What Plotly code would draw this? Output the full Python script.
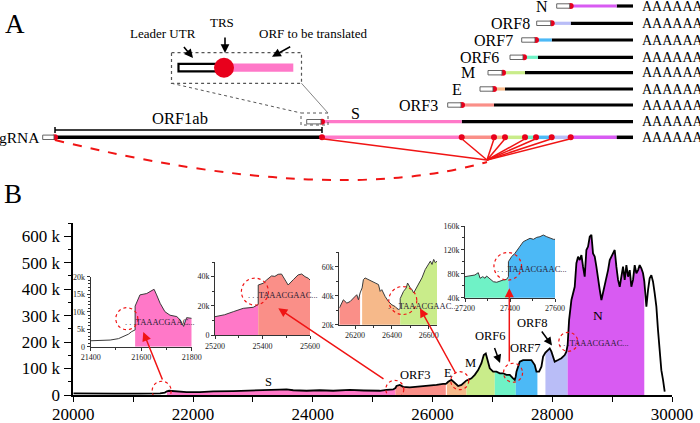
import plotly.graph_objects as go

W, H = 700, 423
FONT = "Liberation Serif, Times New Roman, serif"

# ---------------- data: main coverage track (genome position, coverage in k reads) ----------------
main_pos = [20000, 20300, 20700, 21100, 21450, 21530, 21563, 21600, 21670, 21800, 21892, 22115, 22337,
            22671, 23005, 23228, 23450, 23561, 23673, 23896, 24118, 24341, 24619, 24850, 25120, 25231,
            25343, 25380, 25398, 25454, 25510, 25621, 25732, 25843, 25955, 26066, 26177, 26222, 26240,
            26261, 26316, 26372, 26428, 26483, 26539, 26567, 26595, 26650, 26706, 26762, 26817, 26856,
            26890, 26912, 26956, 27012, 27040, 27068, 27123, 27179, 27235, 27290, 27346, 27374, 27390,
            27402, 27457, 27513, 27596, 27652, 27708, 27736, 27752, 27780, 27819, 27847, 27886, 27930,
            27958, 27986, 28014, 28041, 28097, 28153, 28208, 28236, 28257, 28281, 28320, 28375, 28403,
            28431, 28459, 28487, 28514, 28542, 28570, 28598, 28626, 28654, 28681, 28709, 28737, 28765,
            28793, 28821, 28848, 28876, 28904, 28932, 28960, 28987, 29015, 29043, 29071, 29099, 29127,
            29154, 29182, 29210, 29238, 29266, 29294, 29321, 29349, 29377, 29405, 29433, 29460, 29488,
            29516, 29537, 29572, 29600, 29627, 29655, 29683, 29711, 29739, 29766, 29794, 29822, 29850,
            29878]
main_cov_k = [6, 5, 5, 5.5, 6, 9, 14, 16, 15, 12, 11, 11, 14,
              15, 16, 18, 20, 21, 18, 16, 18, 16, 19, 17, 16, 19,
              21, 26, 34, 38, 31, 29, 31, 34, 37, 38, 42, 42, 45,
              50, 57, 44, 34, 38, 50, 55, 57, 63, 76, 94, 120, 151,
              157, 139, 101, 88, 88, 88, 82, 82, 76, 76, 63, 57, 70,
              88, 126, 132, 132, 132, 113, 88, 88, 88, 107, 145, 160, 170,
              176, 164, 145, 126, 132, 139, 151, 164, 189, 283, 359, 409, 498,
              523, 510, 529, 485, 447, 548, 561, 598, 605, 535, 523, 485, 435,
              397, 359, 384, 409, 435, 472, 510, 523, 535, 548, 485, 435, 409,
              447, 485, 435, 491, 447, 472, 409, 435, 491, 460, 472, 491, 479,
              460, 430, 334, 397, 441, 453, 428, 384, 334, 246, 157, 94, 57,
              13]
assert len(main_pos) == len(main_cov_k)

orf_names = ["S", "ORF3", "E", "M", "ORF6", "ORF7", "ORF8", "N"]
orf_start = [21563, 25380, 26240, 26567, 27040, 27390, 27886, 28257]
orf_end = [25380, 26222, 26567, 27040, 27390, 27752, 28257, 29537]
orf_colors = ["#ff78c8", "#fa8f88", "#f6b98a", "#c9ec8a", "#6ff2c6", "#4cb9f6", "#b9bdf7", "#d85bf2"]
COL = dict(zip(orf_names, orf_colors))

main_ytick_vals = [0, 100000, 200000, 300000, 400000, 500000, 600000]
main_ytick_text = ["0", "100 k", "200 k", "300 k", "400 k", "500 k", "600 k"]
main_xtick_vals = [20000, 22000, 24000, 26000, 28000, 30000]

# ---------------- data: zoomed insets ----------------
ins1_pos = [21400, 21440, 21477, 21510, 21529, 21550, 21562, 21576, 21576, 21595, 21622, 21642, 21651,
            21661, 21675, 21694, 21714, 21741, 21755, 21768, 21780, 21800]
ins1_cov_k = [1.7, 1.8, 1.9, 2.3, 2.9, 3.6, 4.3, 4.8, 11.6, 14.8, 15.2, 16.2, 16.4,
              14.8, 12.4, 10.0, 9.0, 8.6, 7.6, 5.8, 8.3, 8.1]
ins1_regions = [("S", 21576, 21800)]

ins2_pos = [25200, 25240, 25277, 25319, 25361, 25378, 25382, 25382, 25403, 25417, 25438, 25452, 25466,
            25480, 25494, 25508, 25530, 25550, 25565, 25579, 25593, 25600]
ins2_cov_k = [12.7, 14.0, 16.1, 18.4, 19.1, 20.7, 21.0, 34.3, 35.5, 37.7, 40.5, 40.2, 41.6,
              41.8, 37.7, 34.3, 38.0, 41.2, 41.8, 40.0, 38.9, 37.7]
ins2_regions = [("S", 25200, 25382), ("ORF3", 25382, 25600)]

ins3_pos = [26114, 26136, 26155, 26173, 26191, 26209, 26218, 26227, 26238, 26245, 26254, 26272, 26291,
            26309, 26327, 26336, 26345, 26363, 26381, 26400, 26418, 26436, 26445, 26445, 26463, 26478,
            26485, 26500, 26509, 26518, 26532, 26545, 26563, 26581, 26600, 26609, 26618, 26627, 26636,
            26645]
ins3_cov_k = [31.4, 37.2, 34.9, 36.0, 38.4, 40.7, 37.2, 41.9, 45.4, 51.1, 52.3, 51.1, 50.0,
              48.4, 47.7, 43.0, 44.2, 39.5, 36.0, 33.7, 32.5, 30.2, 31.4, 38.0, 43.0, 45.4,
              48.8, 45.4, 44.2, 41.9, 45.4, 48.8, 52.3, 58.1, 61.6, 63.9, 61.6, 65.1, 62.8,
              63.9]
ins3_regions = [("ORF3", 26114, 26227), ("E", 26238, 26445), ("M", 26445, 26645)]

ins4_pos = [27200, 27222, 27244, 27259, 27267, 27279, 27289, 27296, 27311, 27326, 27341, 27356, 27370,
            27385, 27393, 27393, 27407, 27422, 27444, 27459, 27474, 27489, 27504, 27519, 27533, 27548,
            27563, 27578, 27593, 27600]
ins4_cov_k = [75.2, 76.3, 78.0, 81.9, 72.5, 75.2, 72.5, 76.3, 70.8, 66.8, 65.8, 68.0, 69.6,
              70.8, 75.2, 100.3, 108.6, 114.3, 125.4, 133.7, 136.6, 139.4, 137.7, 141.0, 142.1, 144.9,
              142.1, 139.4, 137.7, 137.7]
ins4_regions = [("ORF6", 27200, 27393), ("ORF7", 27393, 27600)]

# ---------------- data: schematic (panel A), schematic units ----------------
sg_rows = ["N", "ORF8", "ORF7", "ORF6", "M", "E", "ORF3", "S"]
sg_row_y = [6, 23.3, 40, 57.3, 72.7, 89, 105, 121.7]
sg_leader_start = [556.7, 536.7, 521.7, 510, 488, 480, 447.7, 306.7]
sg_orf_start = [570.7, 551.7, 536, 524, 503, 494, 462, 322]
sg_orf_end = [616.7, 570.7, 551.7, 538, 525, 505, 494, 461.7]
sg_label_right = [550, 531.7, 515, 500.7, 476.7, 464, 440, None]
schem_end = 633
grna_y = 137.3
grna_leader = [42.7, 55]
grna_bounds = [55, 322, 461.7, 494, 505, 525, 536, 551.7, 570.7, 616.7, 633]
grna_segs = ["ORF1ab", "S", "ORF3", "E", "M", "ORF6", "ORF7", "ORF8", "N", "UTR3"]

fig = go.Figure()


def dx(a, b):
    return [a / W, b / W]


def dy(bottom, top):
    return [1 - bottom / H, 1 - top / H]


def add_fill(xs, ys, lo, hi, color, xa, ya):
    sx = [x for x in xs if lo <= x <= hi]
    sy = [y for x, y in zip(xs, ys) if lo <= x <= hi]
    fig.add_trace(go.Scatter(x=sx, y=sy, fill="tozeroy", fillcolor=color, mode="none",
                             xaxis=xa, yaxis=ya, hoverinfo="skip"))


# ---- main coverage ----
main_cov = [v * 1000 for v in main_cov_k]
for n, s, e in zip(orf_names, orf_start, orf_end):
    add_fill(main_pos, main_cov, s, e, COL[n], "x", "y")
fig.add_trace(go.Scatter(x=main_pos, y=main_cov, mode="lines", line=dict(color="black", width=1.8),
                         xaxis="x", yaxis="y"))

# ---- insets ----
insets = [
    (ins1_pos, ins1_cov_k, ins1_regions, "x2", "y2"),
    (ins2_pos, ins2_cov_k, ins2_regions, "x3", "y3"),
    (ins3_pos, ins3_cov_k, ins3_regions, "x4", "y4"),
    (ins4_pos, ins4_cov_k, ins4_regions, "x5", "y5"),
]
for pos, cov_k, regs, xa, ya in insets:
    cov = [v * 1000 for v in cov_k]
    for n, lo, hi in regs:
        add_fill(pos, cov, lo, hi, COL[n], xa, ya)
    fig.add_trace(go.Scatter(x=pos, y=cov, mode="lines", line=dict(color="#3a3a3a", width=1),
                             xaxis=xa, yaxis=ya))

# ---- schematic (panel A) on overlay axis x6/y6 ----
seg_color = dict(COL, ORF1ab="black", UTR3="black")
for i, name in enumerate(grna_segs):
    fig.add_trace(go.Scatter(x=[grna_bounds[i], grna_bounds[i + 1]], y=[grna_y, grna_y], mode="lines",
                             line=dict(color=seg_color[name], width=3.5), xaxis="x6", yaxis="y6"))
for name, yy, s, e in zip(sg_rows, sg_row_y, sg_orf_start, sg_orf_end):
    fig.add_trace(go.Scatter(x=[e, schem_end], y=[yy, yy], mode="lines",
                             line=dict(color="black", width=3.2), xaxis="x6", yaxis="y6"))
    fig.add_trace(go.Scatter(x=[s, e], y=[yy, yy], mode="lines",
                             line=dict(color=COL[name], width=3.2), xaxis="x6", yaxis="y6"))

shapes = []
# leader boxes
for yy, l0, s in zip(sg_row_y, sg_leader_start, sg_orf_start):
    shapes.append(dict(type="rect", xref="x6", yref="y6", x0=l0, x1=s - 1, y0=yy - 2.2, y1=yy + 2.2,
                       fillcolor="white", line=dict(color="#555", width=0.9), layer="above"))
shapes.append(dict(type="rect", xref="x6", yref="y6", x0=grna_leader[0], x1=grna_leader[1] - 1,
                   y0=grna_y - 2.2, y1=grna_y + 2.2, fillcolor="white", line=dict(color="#555", width=0.9)))
# red splice lines
conv = (487, 160)
for xb in [322, 461.7, 494, 505, 525, 536, 551.7, 570.7]:
    shapes.append(dict(type="line", xref="x6", yref="y6", x0=xb, y0=grna_y + 1.5, x1=conv[0], y1=conv[1],
                       line=dict(color="#f01414", width=1.5)))
shapes.append(dict(type="path", xref="x6", yref="y6", path="M 55,140 Q 329,207 487,162",
                   line=dict(color="#f01414", width=2, dash="dash")))
# ORF1ab bracket
shapes.append(dict(type="line", xref="x6", yref="y6", x0=55, x1=322, y0=130, y1=130,
                   line=dict(color="black", width=1.5)))
for xb in [55, 322]:
    shapes.append(dict(type="line", xref="x6", yref="y6", x0=xb, x1=xb, y0=127, y1=133,
                       line=dict(color="black", width=1.5)))
# zoom boxes
shapes.append(dict(type="rect", xref="x6", yref="y6", x0=301, x1=328, y0=113, y1=125,
                   line=dict(color="#555", width=1, dash="dot")))
shapes.append(dict(type="rect", xref="x6", yref="y6", x0=171.5, x1=301.5, y0=52.7, y1=83.3,
                   line=dict(color="#555", width=1.2, dash="dot")))
shapes.append(dict(type="line", xref="x6", yref="y6", x0=171.5, y0=83.3, x1=301, y1=113,
                   line=dict(color="#555", width=1, dash="dot")))
shapes.append(dict(type="line", xref="x6", yref="y6", x0=301.5, y0=83.3, x1=328, y1=113,
                   line=dict(color="#666", width=0.8)))
# enlarged TRS diagram
shapes.append(dict(type="rect", xref="x6", yref="y6", x0=224, x1=293.3, y0=63.5, y1=71.8,
                   fillcolor=COL["S"], line=dict(width=0)))
shapes.append(dict(type="rect", xref="x6", yref="y6", x0=178.5, x1=216.5, y0=63.8, y1=71.3,
                   fillcolor="white", line=dict(color="black", width=2.2)))
shapes.append(dict(type="circle", xref="x6", yref="y6", x0=214, x1=234, y0=57.7, y1=77.7,
                   fillcolor="#e8001c", line=dict(width=0)))

# red dots
dot_x = [55, 322, 461.7, 494, 505, 525, 536, 551.7, 570.7] + sg_orf_start
dot_y = [grna_y] * 9 + sg_row_y
fig.add_trace(go.Scatter(x=dot_x, y=dot_y, mode="markers", marker=dict(color="#e8001c", size=6),
                         xaxis="x6", yaxis="y6"))

# dashed circles (main plot and insets), pixel sized
circ_main = [(21476, 16000, 9.5), (25370, 21500, 9), (26455, 54000, 9), (27345, 84000, 9.5),
             (28268, 201000, 9.5)]
for gx, gy, r in circ_main:
    shapes.append(dict(type="circle", xref="x", yref="y", xsizemode="pixel", ysizemode="pixel",
                       xanchor=gx, yanchor=gy, x0=-r, x1=r, y0=-r, y1=r,
                       line=dict(color="#f01414", width=1.2, dash="dot")))
circ_ins = [("x2", "y2", 21543, 8000, 11), ("x3", "y3", 25368, 29800, 13.5),
            ("x4", "y4", 26459, 36700, 14), ("x5", "y5", 27390, 92600, 13.8)]
for xa, ya, gx, gy, r in circ_ins:
    shapes.append(dict(type="circle", xref=xa, yref=ya, xsizemode="pixel", ysizemode="pixel",
                       xanchor=gx, yanchor=gy, x0=-r, x1=r, y0=-r, y1=r,
                       line=dict(color="#f01414", width=1.2, dash="dot")))

ann = []


def txt(x, y, s, size, xanchor="center", color="black"):
    ann.append(dict(x=x, y=y, xref="x6", yref="y6", text=s, showarrow=False, xanchor=xanchor,
                    yanchor="middle", font=dict(family=FONT, size=size, color=color)))


def arrow(hx, hy, tx, ty, color, width=1.6, size=1.2):
    ann.append(dict(x=hx, y=hy, ax=tx, ay=ty, xref="x6", yref="y6", axref="x6", ayref="y6", text="",
                    showarrow=True, arrowhead=2, arrowsize=size, arrowwidth=width, arrowcolor=color))


# panel A texts
txt(14.5, 24, "A", 27)
txt(41.5, grna_y, "gRNA", 15.5, "right")
txt(180, 118, "ORF1ab", 16.5)
txt(355, 113, "S", 16)
for name, yy, lx in zip(sg_rows, sg_row_y, sg_label_right):
    if lx is not None:
        txt(lx, yy, name, 16, "right")
for yy in sg_row_y + [grna_y]:
    txt(640, yy, "AAAAAA", 14, "left")
txt(163, 33, "Leader UTR", 13)
txt(221.7, 22, "TRS", 13)
txt(257, 33, "ORF to be translated", 13, "left")
arrow(193, 58, 182.7, 45.5, "black", 1.6, 1.1)
arrow(225, 53, 225, 36, "black", 1.6, 1.1)
arrow(272, 56.7, 291.7, 46, "black", 1.6, 1.1)

# panel B texts
txt(13, 194, "B", 27)
for s, x, y in [("S", 268.3, 381.7), ("ORF3", 415.7, 375), ("E", 448.3, 373.3), ("M", 470, 362.7),
                ("ORF6", 490, 336), ("ORF7", 525, 347.7), ("ORF8", 532.7, 323.3), ("N", 598.3, 315)]:
    txt(x, y, s, 13.5 if s == "N" else 12.5)
seq = ". . .TAAACGAAC..."
for x, y in [(557, 343.3), (123, 321.7), (245.5, 295), (386, 306), (495, 269.3)]:
    txt(x, y, seq, 8.5, "left", "#2a2033")
arrow(500, 363, 494, 346.5, "black", 1.5, 1.1)
arrow(552, 345.5, 540.7, 330, "black", 1.5, 1.1)
# red connector arrows
arrow(143.3, 332, 163, 381, "#f01414", 1.5, 1.2)
arrow(278.3, 308.3, 385, 380, "#f01414", 1.5, 1.2)
arrow(420, 308.3, 456.7, 375, "#f01414", 1.5, 1.2)
arrow(509.3, 288.3, 509.3, 363, "#f01414", 1.5, 1.2)

# ---------------- axes ----------------
main_ax = dict(showgrid=False, zeroline=False, showline=True, linecolor="black", linewidth=1.6,
               ticks="outside", tickcolor="black", tickwidth=1.4, automargin=False,
               tickfont=dict(family=FONT, size=17, color="black"))
ins_ax = dict(showgrid=False, zeroline=False, showline=True, linecolor="#333", linewidth=1,
              ticks="outside", tickcolor="#333", tickwidth=1, ticklen=3, automargin=False,
              tickfont=dict(family=FONT, size=8, color="#222"),
              minor=dict(ticks="outside", ticklen=2, tickcolor="#333"))


def ins_x(dom, rng, vals, anchor):
    return dict(ins_ax, domain=dom, range=rng, anchor=anchor, tickvals=vals,
                ticktext=[str(v) for v in vals], minor=dict(ins_ax["minor"], dtick=100))


layout = dict(
    width=W, height=H, margin=dict(l=0, r=0, t=0, b=0, pad=0, autoexpand=False),
    paper_bgcolor="white", template="none",
    plot_bgcolor="rgba(0,0,0,0)", showlegend=False, shapes=shapes, annotations=ann,
    xaxis=dict(main_ax, domain=dx(73.3, 672), range=[20000, 30000], anchor="y", tickvals=main_xtick_vals,
               ticktext=[str(v) for v in main_xtick_vals], ticklen=5, ticklabelstandoff=-2,
               minor=dict(dtick=1000, ticks="outside", ticklen=5, tickcolor="black", tickwidth=1.4)),
    yaxis=dict(main_ax, domain=dy(395, 223), range=[0, 650000], anchor="x", tickvals=main_ytick_vals,
               ticktext=main_ytick_text, ticklen=8,
               minor=dict(dtick=50000, ticks="outside", ticklen=4, tickcolor="black", tickwidth=1.2)),
    xaxis2=ins_x(dx(90.7, 191.7), [21400, 21800], [21400, 21600, 21800], "y2"),
    yaxis2=dict(ins_ax, domain=dy(346.7, 276.7), range=[0, 20000], anchor="x2",
                tickvals=[0, 5000, 10000, 15000, 20000], ticktext=["0", "5k", "10k", "15k", "20k"]),
    xaxis3=ins_x(dx(215, 310), [25200, 25600], [25200, 25400, 25600], "y3"),
    yaxis3=dict(ins_ax, domain=dy(335.3, 262), range=[0, 50000], anchor="x3",
                tickvals=[0, 20000, 40000], ticktext=["0", "20k", "40k"],
                minor=dict(ins_ax["minor"], dtick=10000)),
    xaxis4=ins_x(dx(339.3, 437), [26114, 26645], [26200, 26400, 26600], "y4"),
    yaxis4=dict(ins_ax, domain=dy(324.7, 252.3), range=[20000, 70000], anchor="x4",
                tickvals=[20000, 40000, 60000], ticktext=["20k", "40k", "60k"],
                minor=dict(ins_ax["minor"], dtick=10000)),
    xaxis5=ins_x(dx(465, 555), [27200, 27600], [27200, 27400, 27600], "y5"),
    yaxis5=dict(ins_ax, domain=dy(297.7, 226), range=[40000, 160000], anchor="x5",
                tickvals=[40000, 80000, 120000, 160000], ticktext=["40k", "80k", "120k", "160k"],
                minor=dict(ins_ax["minor"], dtick=20000)),
    xaxis6=dict(domain=[0, 1], range=[0, W], anchor="y6", visible=False, fixedrange=True, automargin=False),
    yaxis6=dict(domain=[0, 1], range=[H, 0], anchor="x6", visible=False, fixedrange=True, automargin=False),
)
fig.update_layout(**layout)
fig.write_html("out.html", config={"displayModeBar": False},
               post_script="document.body.style.margin='0';document.body.style.overflow='hidden';")
